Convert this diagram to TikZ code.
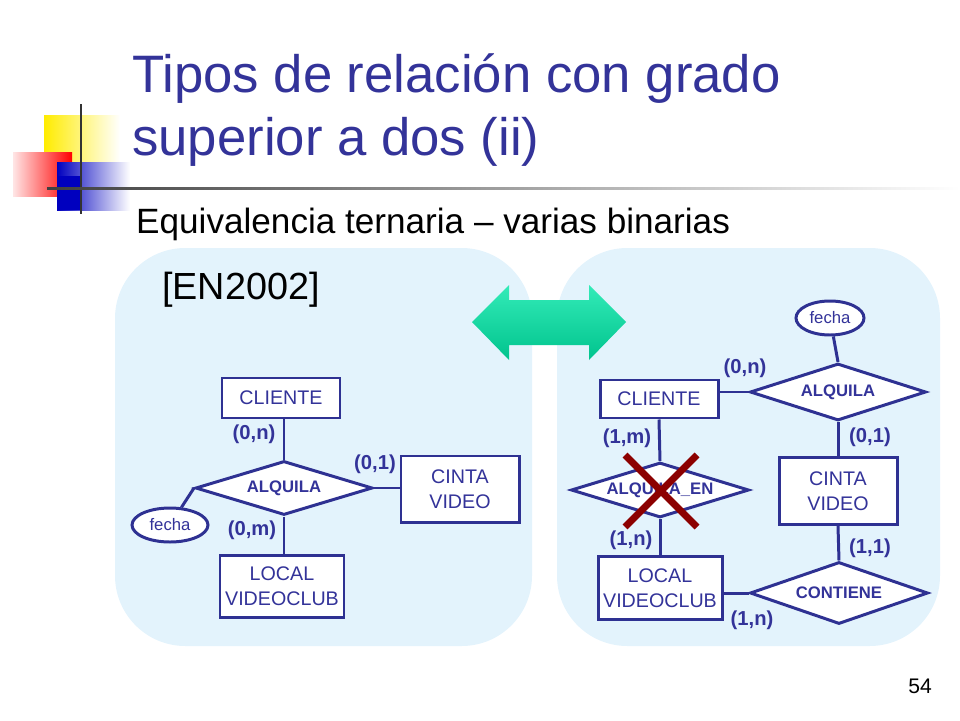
\documentclass[tikz,border=0pt]{standalone}
\usepackage{fontspec}
\setmainfont{Liberation Sans}
\usetikzlibrary{shapes.geometric}
\definecolor{tc}{HTML}{333399}
\definecolor{ln}{HTML}{2E3192}
\definecolor{pan}{HTML}{E3F3FC}
\definecolor{mint}{HTML}{00E6A6}
\begin{document}
\begin{tikzpicture}[x=0.02cm,y=-0.02cm,
 ent/.style={draw=ln,line width=1.7pt,fill=white,font=\fontsize{11.2}{14}\selectfont,text=tc,align=center,inner sep=0pt},
 rel/.style={draw=ln,line width=1.7pt,fill=white,diamond,aspect=3.2,inner sep=0pt,font=\bfseries\fontsize{9.5}{10}\selectfont,text=tc},
 att/.style={draw=ln,line width=1.7pt,fill=white,ellipse,inner sep=0pt,font=\fontsize{9.5}{10}\selectfont,text=tc},
 card/.style={font=\bfseries\fontsize{11.5}{12}\selectfont,text=tc},
 con/.style={draw=ln,line width=1.7pt}]
\useasboundingbox (0,0) rectangle (960,720);
% logo
\shade[left color=yellow!85!orange,right color=white] (44,115) rectangle (120,176);
\shade[left color=red!10,right color=red] (13,152) rectangle (72,196);
\shade[left color=blue!75!black,right color=white] (57,162) rectangle (130,210);
\fill[blue!75!black] (57,176) rectangle (80,210);
\draw[line width=1.2pt,black!80] (81,104) -- (81,214);
\shade[left color=black!75,right color=white] (47,187.5) rectangle (960,189.5);
\node[anchor=west,text=tc,font=\fontsize{30}{36}\selectfont,align=left] (title) at (126,110) {Tipos de relación con grado\\superior a dos (ii)};
\node[anchor=west,font=\fontsize{20}{24}\selectfont] (sub) at (130,224) {Equivalencia ternaria – varias binarias};
\node[font=\fontsize{12}{14}\selectfont] (pg) at (920,686) {54};
% panels
\fill[pan,rounded corners=40pt] (115,248) rectangle (532,646);
\fill[pan,rounded corners=40pt] (557,248) rectangle (940,646);
\node[anchor=west,font=\fontsize{21.5}{24}\selectfont] (ref) at (156,290) {[EN2002]};
\shade[top color=mint!80!white,bottom color=mint!85!black]
 (472,322) -- (509,285) -- (509,300) -- (589,300) -- (589,285) -- (626,322) -- (589,360) -- (589,345) -- (509,345) -- (509,360) -- cycle;
% left diagram
\node[ent,minimum width=118*0.02cm,minimum height=40*0.02cm] (cl) at (281,398) {CLIENTE};
\node[rel,minimum width=177*0.02cm,minimum height=54*0.02cm] (al) at (284,488) {ALQUILA};
\node[ent,minimum width=118*0.02cm,minimum height=66*0.02cm] (ci) at (460,489) {CINTA\\VIDEO};
\node[ent,minimum width=124*0.02cm,minimum height=62*0.02cm] (lo) at (282,586) {LOCAL\\VIDEOCLUB};
\node[att,minimum width=76*0.02cm,minimum height=34*0.02cm] (fe) at (170,525) {fecha};
\draw[con] (cl.south -| al.north) -- (al.north);
\draw[con] (al.east) -- (ci.west |- al.east);
\draw[con] (al.south) -- (al.south |- lo.north);
\draw[con] (fe) -- (al.west);
\node[card] (c1) at (254,434) {(0,n)};
\node[card] (c2) at (375,464) {(0,1)};
\node[card] (c3) at (252,530) {(0,m)};
% right diagram
\node[att,minimum width=68*0.02cm,minimum height=34*0.02cm] (fe2) at (830,318) {fecha};
\node[rel,minimum width=176*0.02cm,minimum height=57*0.02cm] (al2) at (838,392) {ALQUILA};
\node[ent,minimum width=118*0.02cm,minimum height=38*0.02cm] (cl2) at (659,399) {CLIENTE};
\node[ent,minimum width=118*0.02cm,minimum height=67*0.02cm] (ci2) at (838,491) {CINTA\\VIDEO};
\node[rel,minimum width=178*0.02cm,minimum height=62*0.02cm] (co) at (839,593) {CONTIENE};
\node[ent,minimum width=124*0.02cm,minimum height=63*0.02cm] (lo2) at (660,588) {LOCAL\\VIDEOCLUB};
\node[rel,minimum width=178*0.02cm,minimum height=55*0.02cm] (ae) at (660,490) {ALQUILA\_EN};
\draw[con] (fe2) -- (al2.north);
\draw[con] (cl2.east |- al2.west) -- (al2.west);
\draw[con] (al2.south) -- (ci2.north);
\draw[con] (ci2.south) -- (co.north);
\draw[con] (lo2.east |- co.west) -- (co.west);
\draw[con] (cl2.south) -- (ae.north);
\draw[con] (ae.south) -- (lo2.north);
\draw[line width=4pt,red!55!black] (625,455) -- (697,527) (697,455) -- (625,527);
\node[card] (d1) at (745,368) {(0,n)};
\node[card] (d2) at (870,437) {(0,1)};
\node[card] (d3) at (627,438) {(1,m)};
\node[card] (d4) at (631,540) {(1,n)};
\node[card] (d5) at (870,548) {(1,1)};
\node[card] (d6) at (752,620) {(1,n)};
\end{tikzpicture}
\end{document}
